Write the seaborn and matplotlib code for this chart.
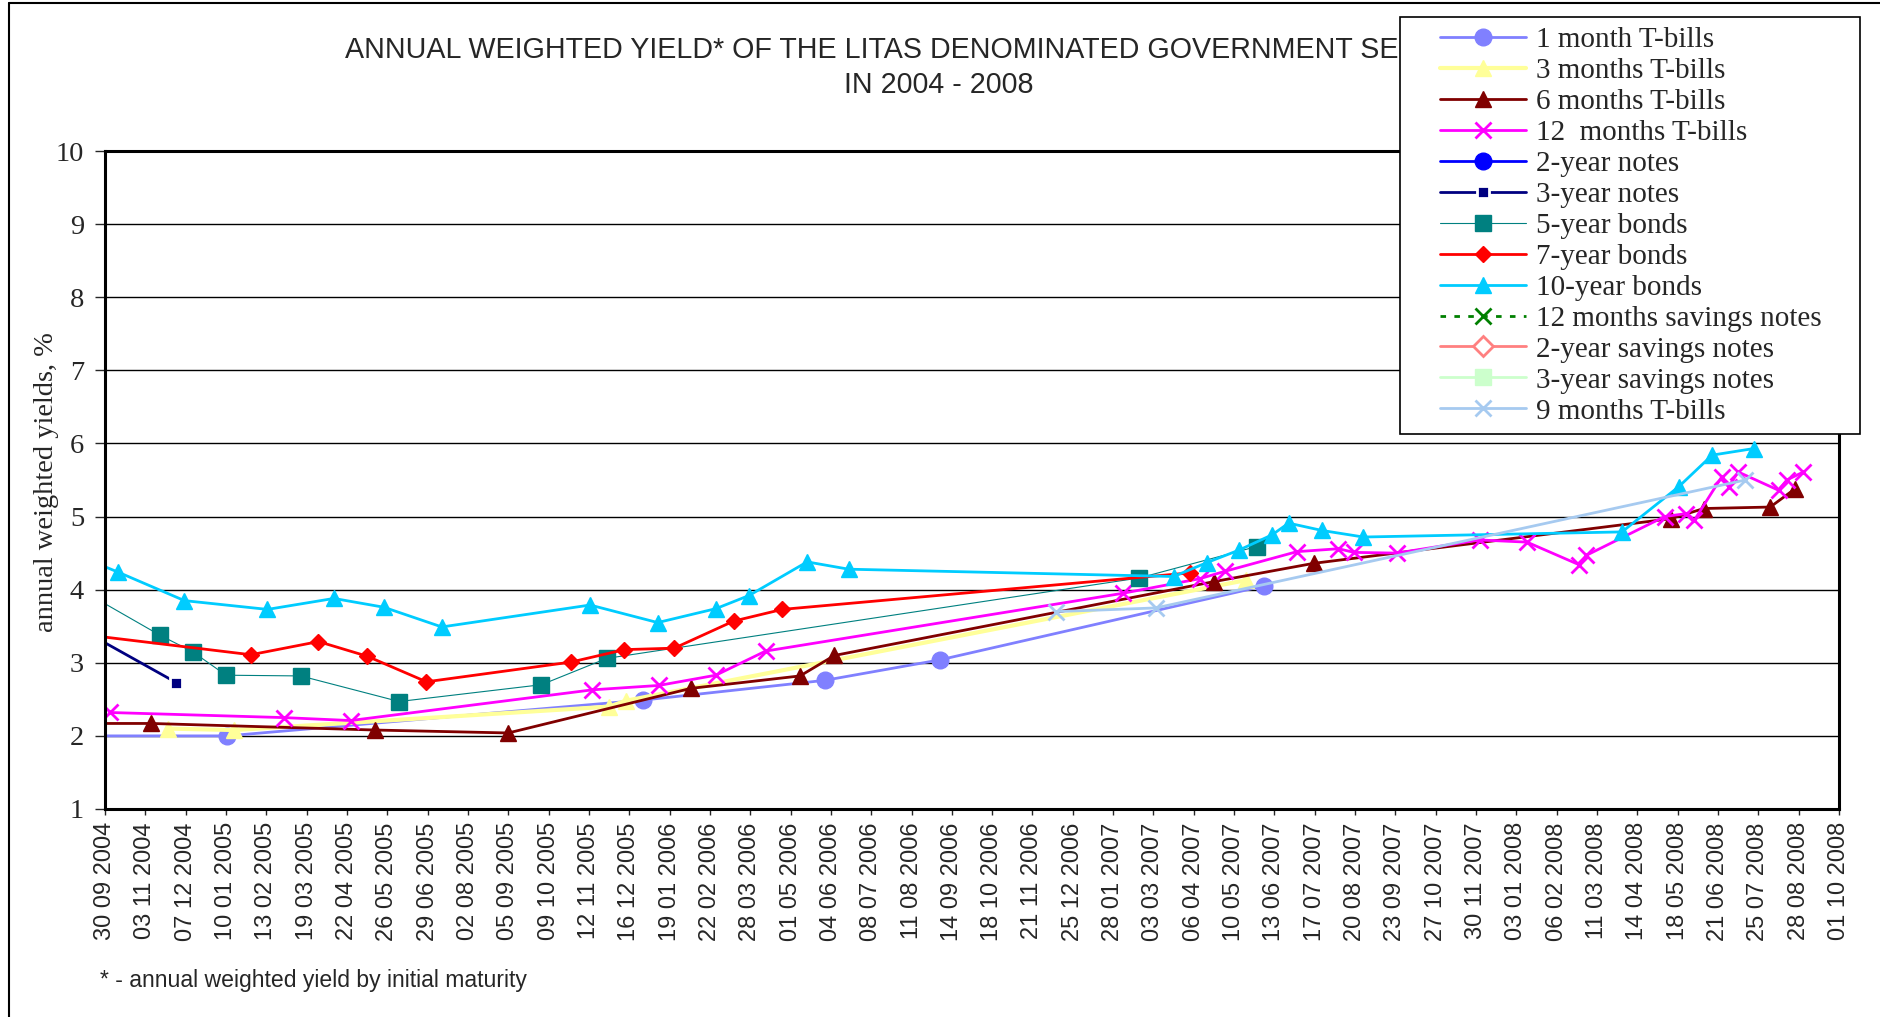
import matplotlib
matplotlib.use("Agg")
import matplotlib.pyplot as plt
import matplotlib.lines as mlines
from matplotlib.legend_handler import HandlerLine2D
import seaborn as sns
import pandas as pd

# ---- data ----
one_month_dates = ["2004-09-05", "2005-01-11", "2005-12-28", "2006-05-30", "2006-09-04", "2007-06-04"]
one_month = [2.00, 2.00, 2.49, 2.76, 3.04, 4.05]

three_month_dates = ["2004-11-22", "2005-01-17", "2005-11-29", "2005-12-13", "2007-05-20"]
three_month = [2.10, 2.08, 2.40, 2.48, 4.13]

six_month_dates = ["2004-09-05", "2004-11-08", "2005-05-16", "2005-09-05", "2006-02-06", "2006-05-09",
                   "2006-06-07", "2007-04-23", "2007-07-16", "2008-05-12", "2008-06-09", "2008-08-04",
                   "2008-08-25"]
six_month = [2.17, 2.17, 2.08, 2.04, 2.65, 2.82, 3.10, 4.11, 4.36, 4.97, 5.11, 5.13, 5.38]

twelve_month_dates = ["2004-10-04", "2005-02-28", "2005-04-25", "2005-11-15", "2006-01-10", "2006-02-27",
                      "2006-04-10", "2007-02-05", "2007-04-11", "2007-05-02", "2007-07-02", "2007-08-06",
                      "2007-08-19", "2007-09-24", "2007-12-03", "2008-01-12", "2008-02-25", "2008-03-02",
                      "2008-05-07", "2008-05-25", "2008-06-01", "2008-06-24", "2008-06-30", "2008-07-08",
                      "2008-08-11", "2008-08-18", "2008-09-01"]
twelve_month = [2.32, 2.25, 2.21, 2.63, 2.69, 2.83, 3.16, 3.95, 4.15, 4.25, 4.52, 4.56, 4.51, 4.50,
                4.68, 4.65, 4.34, 4.47, 5.00, 5.04, 4.95, 5.54, 5.41, 5.61, 5.36, 5.50, 5.61]

three_year_dates = ["2004-09-05", "2004-11-29"]
three_year = [3.50, 2.73]

five_year_dates = ["2004-09-05", "2004-11-15", "2004-12-13", "2005-01-10", "2005-03-14", "2005-06-05",
                   "2005-10-03", "2005-11-27", "2007-02-19", "2007-05-29"]
five_year = [4.04, 3.38, 3.15, 2.83, 2.82, 2.47, 2.70, 3.06, 4.16, 4.59]

seven_year_dates = ["2004-09-05", "2005-01-31", "2005-03-29", "2005-05-09", "2005-06-28", "2005-10-28",
                    "2005-12-12", "2006-01-23", "2006-03-14", "2006-04-24", "2007-04-03"]
seven_year = [3.40, 3.11, 3.29, 3.09, 2.74, 3.01, 3.18, 3.20, 3.57, 3.73, 4.23]

ten_year_dates = ["2004-09-05", "2004-10-11", "2004-12-06", "2005-02-14", "2005-04-11", "2005-05-23",
                  "2005-07-11", "2005-11-13", "2006-01-09", "2006-02-27", "2006-03-27", "2006-05-15",
                  "2006-06-19", "2007-03-20", "2007-04-17", "2007-05-14", "2007-06-11", "2007-06-25",
                  "2007-07-23", "2007-08-27", "2008-04-01", "2008-05-19", "2008-06-16", "2008-07-21"]
ten_year = [4.48, 4.24, 3.85, 3.73, 3.88, 3.76, 3.49, 3.79, 3.55, 3.74, 3.92, 4.38, 4.28, 4.18,
            4.37, 4.54, 4.75, 4.91, 4.81, 4.72, 4.79, 5.41, 5.84, 5.93]

nine_month_dates = ["2006-12-11", "2007-03-05", "2008-07-14"]
nine_month = [3.70, 3.75, 5.50]

# series in legend order: (label, dates, values, color, marker, markersize, linewidth)
series = [
    ("1 month T-bills", one_month_dates, one_month, "#8080FF", "o", 12, 2.0),
    ("3 months T-bills", three_month_dates, three_month, "#FFFF99", "^", 12, 3.0),
    ("6 months T-bills", six_month_dates, six_month, "#800000", "^", 12, 2.0),
    ("12  months T-bills", twelve_month_dates, twelve_month, "#FF00FF", "x", 12, 2.0),
    ("2-year notes", [], [], "#0000FF", "o", 12, 2.0),
    ("3-year notes", three_year_dates, three_year, "#000080", "s", 8, 2.0),
    ("5-year bonds", five_year_dates, five_year, "#008080", "s", 12, 0.8),
    ("7-year bonds", seven_year_dates, seven_year, "#FF0000", "D", 8, 2.0),
    ("10-year bonds", ten_year_dates, ten_year, "#00CCFF", "^", 12, 2.0),
    ("12 months savings notes", [], [], "#008000", "x", 12, 2.0),
    ("2-year savings notes", [], [], "#FF8080", "D", 10, 2.0),
    ("3-year savings notes", [], [], "#CCFFCC", "s", 12, 2.0),
    ("9 months T-bills", nine_month_dates, nine_month, "#A6CAF0", "x", 12, 2.0),
]

sns.set_style("white")
serif = ["Liberation Serif", "DejaVu Serif"]
sans = ["Liberation Sans", "DejaVu Sans"]

fig = plt.figure(figsize=(18.81, 10.17), dpi=100)
ax = fig.add_axes([105 / 1881, 1 - 809 / 1017, (1839 - 105) / 1881, (809 - 151) / 1017])

for label, dates, vals, color, marker, ms, lw in series:
    kw = dict(color=color, marker=marker, markersize=ms, linewidth=lw, label=label,
              markeredgecolor=color, markerfacecolor=color, markeredgewidth=1)
    if marker == "x":
        kw["markeredgewidth"] = 2
    if label == "3-year notes":
        kw["markeredgecolor"] = "white"
        kw["markeredgewidth"] = 2
    if label == "2-year savings notes":
        kw["markerfacecolor"] = "white"
        kw["markeredgewidth"] = 2
    if label == "12 months savings notes":
        kw["linestyle"] = (0, (2, 3))
    if len(vals):
        sns.lineplot(x=pd.to_datetime(dates), y=vals, ax=ax, **kw)
    else:
        ax.plot([], [], **kw)

if ax.get_legend() is not None:
    ax.get_legend().remove()

# axes
ticks = pd.date_range("2004-09-30", periods=44, freq="34D")
ax.set_xlim(ticks[0], ticks[-1])
ax.set_ylim(1, 10)
ax.set_yticks(range(1, 11))
ax.set_xticks(ticks)
ax.set_xticklabels([t.strftime("%d %m %Y") for t in ticks], rotation=90,
                   family=sans, fontsize=17)
for t in ax.get_yticklabels():
    t.set_family(serif)
    t.set_fontsize(20.5)
ax.tick_params(axis="y", direction="out", length=7, width=1, pad=8, left=True)
ax.tick_params(axis="x", direction="out", length=4.5, width=1, pad=5, bottom=True)
ax.grid(axis="y", color="black", linewidth=1)
ax.set_axisbelow(True)
for s in ax.spines.values():
    s.set_visible(True)
    s.set_color("black")
    s.set_linewidth(2.2)
ax.set_xlabel("")
ax.set_ylabel("")
fig.text(46.5 / 1881, 1 - 482 / 1017, "annual weighted yields, %", rotation=90,
         ha="center", va="center", family=serif, fontsize=20.5)

# title (partly covered by the legend, as in the original)
fig.text(938 / 1881, 1 - 50 / 1017,
         "ANNUAL WEIGHTED YIELD* OF THE LITAS DENOMINATED GOVERNMENT SECURITIES",
         ha="center", va="center", family=sans, fontsize=20.6)
fig.text(939 / 1881, 1 - 85 / 1017, "IN 2004 - 2008",
         ha="center", va="center", family=sans, fontsize=20.6)

fig.text(100 / 1881, 1 - 980 / 1017, "* - annual weighted yield by initial maturity",
         ha="left", va="center", family=sans, fontsize=16.6)

handles, labels = ax.get_legend_handles_labels()
leg = fig.legend(handles, labels, loc="upper left",
                 bbox_to_anchor=(1400 / 1881, 1 - 427 / 1017, 460 / 1881, 410 / 1017),
                 mode="expand", prop={"family": serif, "size": 21}, frameon=True,
                 fancybox=False, framealpha=1, edgecolor="black", labelspacing=0.157,
                 handlelength=4.0, handletextpad=0.33, borderpad=0.32, borderaxespad=0,
                 handler_map={mlines.Line2D: HandlerLine2D(xpad=1.05)})
leg.get_frame().set_linewidth(1.2)

# outer chart border
fig.add_artist(mlines.Line2D([9 / 1881, 9 / 1881], [0, 1 - 3 / 1017], color="black", lw=1.5))
fig.add_artist(mlines.Line2D([9 / 1881, 1], [1 - 3 / 1017, 1 - 3 / 1017], color="black", lw=1.5))

fig.savefig("out.png", dpi=100)
